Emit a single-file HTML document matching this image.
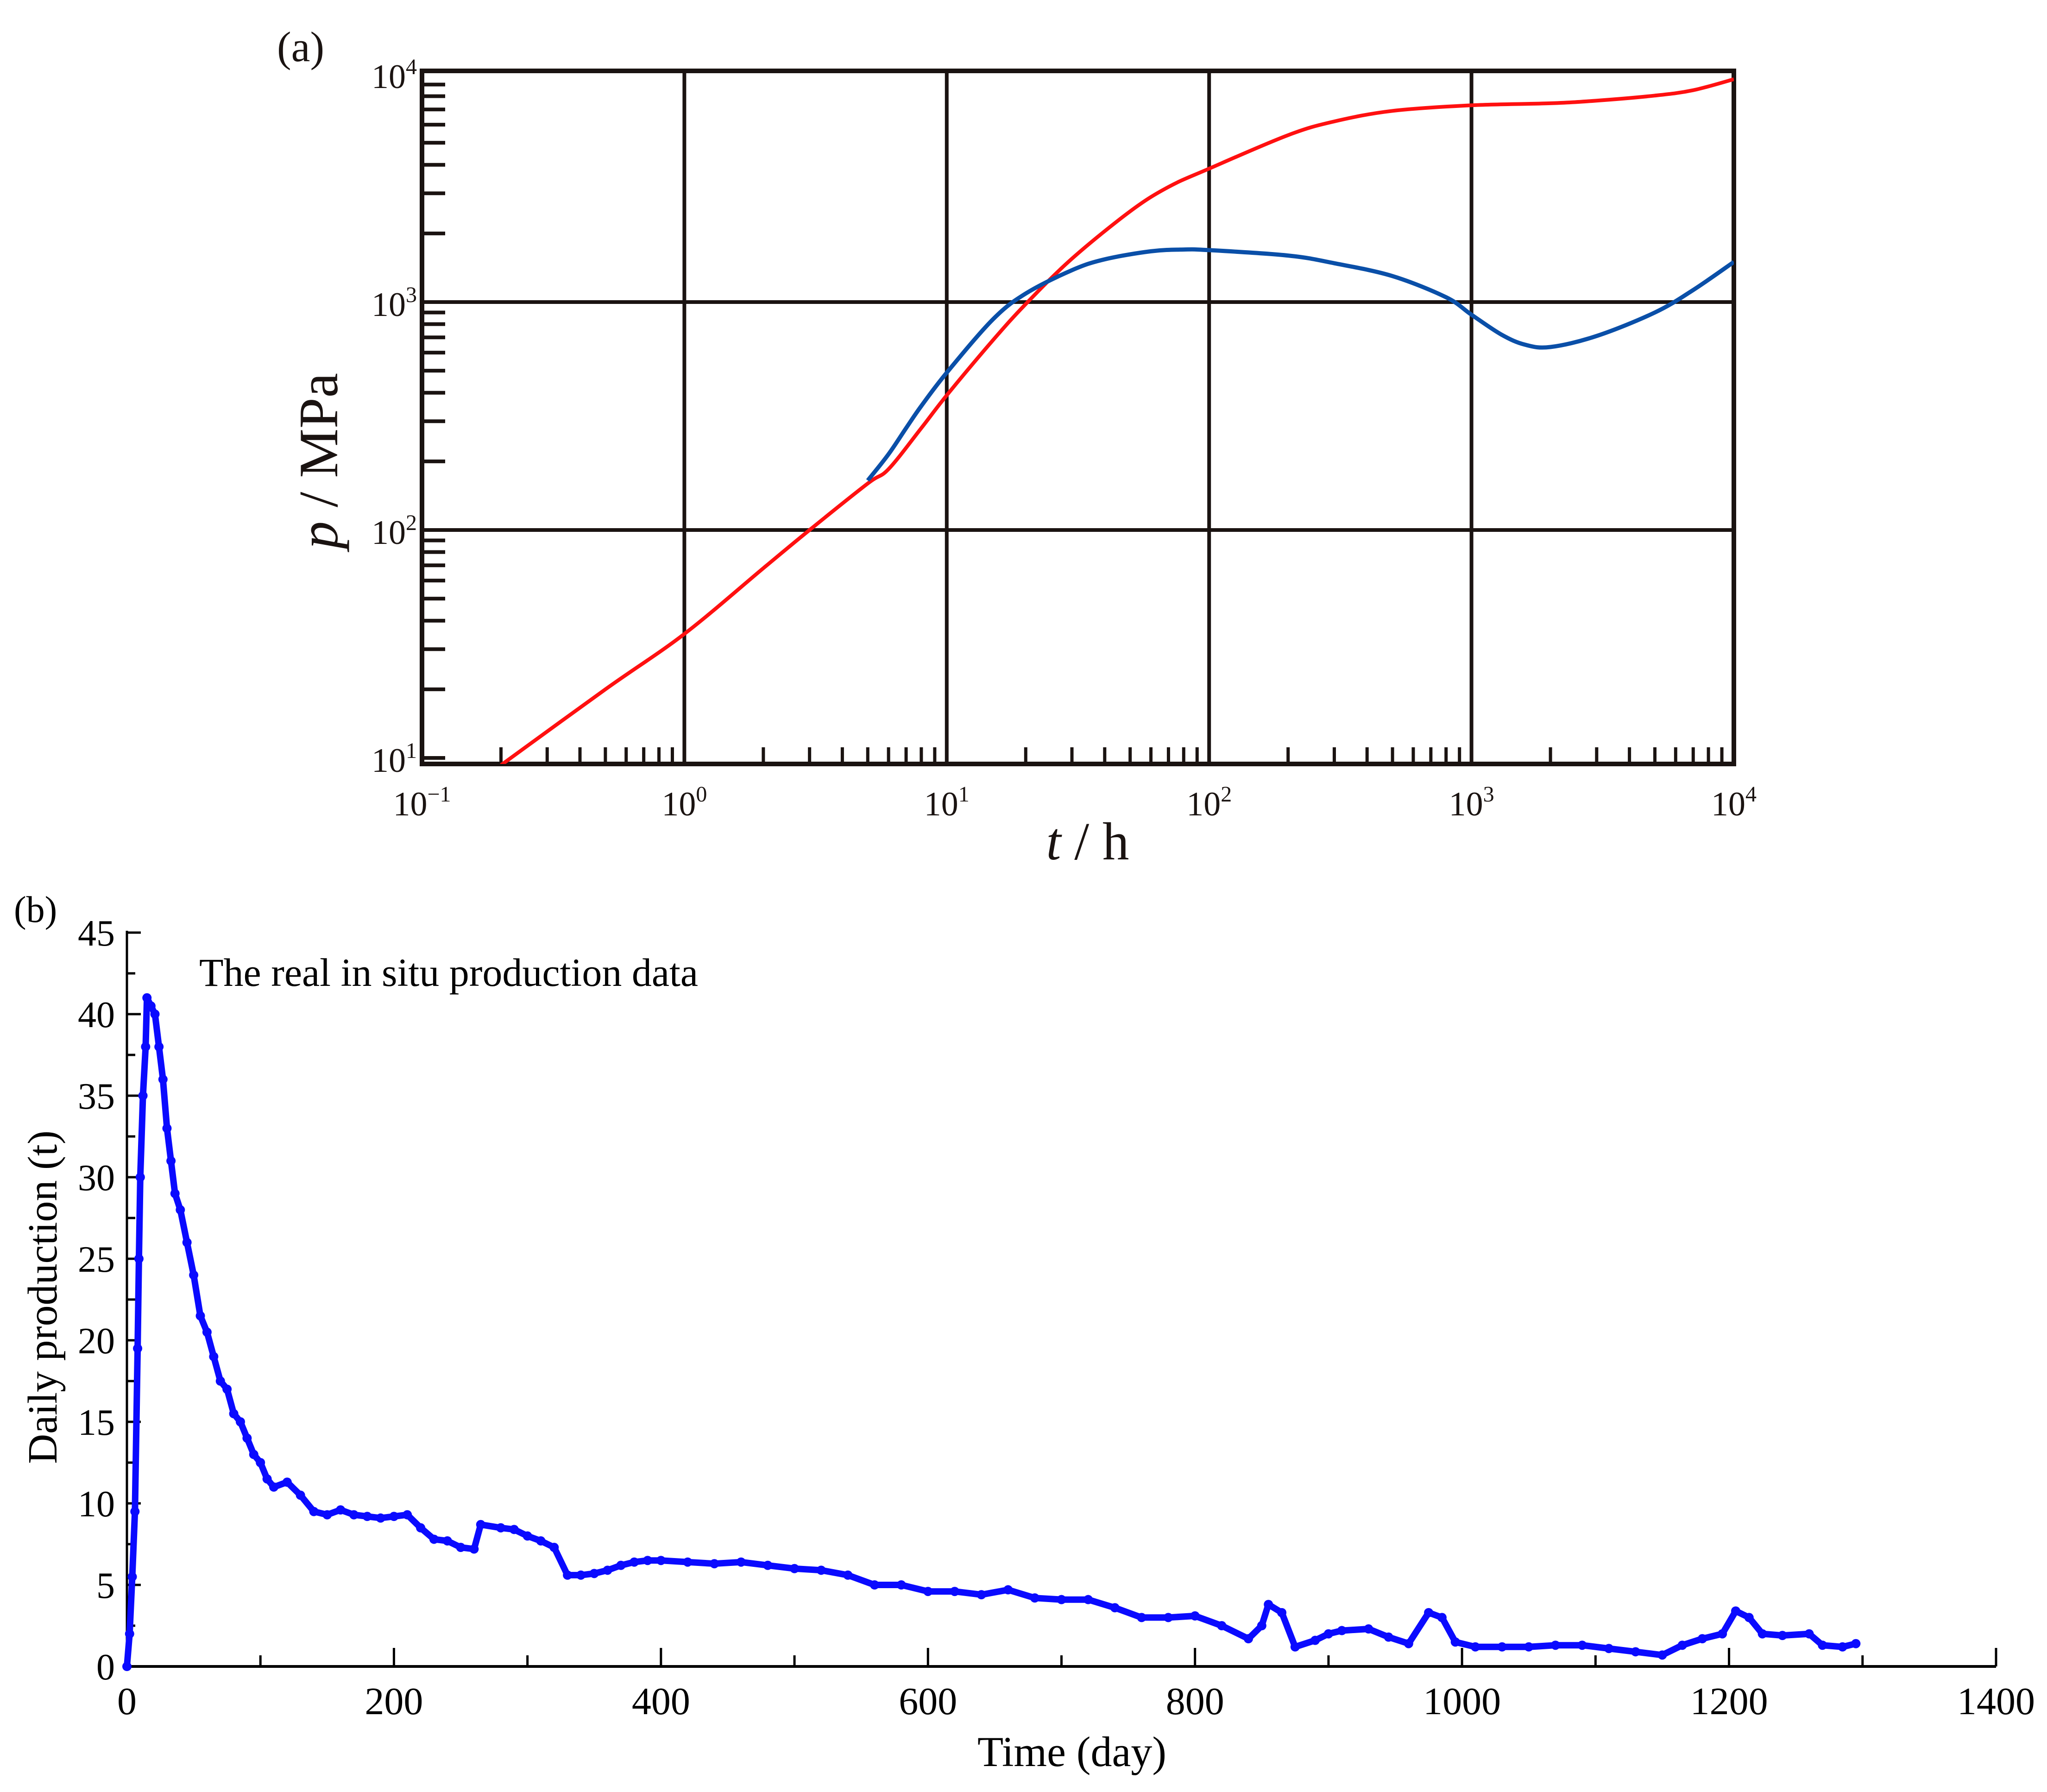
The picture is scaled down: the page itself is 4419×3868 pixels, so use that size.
<!DOCTYPE html>
<html><head><meta charset="utf-8"><style>html,body{margin:0;padding:0;background:#fff}svg{display:block}</style></head>
<body>
<svg id="fig" xmlns="http://www.w3.org/2000/svg" width="4419" height="3868" viewBox="0 0 4419 3868" font-family="'Liberation Serif', serif">
<rect x="0" y="0" width="4419" height="3868" fill="#fff"/>
<g id="chartA"></g>
<g id="chartB"></g>
</svg>
<script>
// ---- Chart (a) data ----
const aXTicks = [-1, 0, 1, 2, 3, 4];
const aYTicks = [1, 2, 3, 4];
const redT = [0.2, 0.5, 1, 2, 3, 5, 6, 8, 10, 15, 20, 30, 50, 70, 100, 200, 300, 500, 1000, 2000, 3000, 5000, 7000, 10000];
const redP = [9.3, 20, 35, 68, 100, 160, 185, 280, 390, 680, 980, 1550, 2500, 3200, 3850, 5400, 6200, 6900, 7300, 7450, 7650, 8050, 8500, 9500];
const blueT = [5, 6, 7, 8, 10, 15, 20, 30, 40, 60, 80, 100, 200, 300, 500, 800, 1000, 1300, 1600, 2000, 3000, 5000, 7000, 10000];
const blueP = [165, 215, 280, 350, 490, 840, 1090, 1380, 1540, 1670, 1700, 1690, 1600, 1480, 1300, 1050, 880, 720, 650, 635, 710, 900, 1130, 1500];
// ---- Chart (b) data ----
const bDays = [0,2,4,6,8,9,10,12,14,15,18,21,24,27,30,33,36,40,45,50,55,60,65,70,75,80,85,90,95,100,105,110,120,130,140,150,160,170,180,190,200,210,220,230,240,250,260,265,280,290,300,310,320,330,340,350,360,370,380,390,400,420,440,460,480,500,520,540,560,580,600,620,640,660,680,700,720,740,760,780,800,820,840,850,855,865,875,890,900,910,930,945,960,975,985,995,1010,1030,1050,1070,1090,1110,1130,1150,1165,1180,1195,1205,1215,1225,1240,1260,1270,1285,1295];
const bProd = [0,2,5.5,9.5,19.5,25,30,35,38,41,40.5,40,38,36,33,31,29,28,26,24,21.5,20.5,19,17.5,17,15.5,15,14,13,12.5,11.5,11,11.3,10.5,9.5,9.3,9.6,9.3,9.2,9.1,9.2,9.3,8.5,7.8,7.7,7.3,7.2,8.7,8.5,8.4,8.0,7.7,7.3,5.6,5.6,5.7,5.9,6.2,6.4,6.5,6.5,6.4,6.3,6.4,6.2,6.0,5.9,5.6,5.0,5.0,4.6,4.6,4.4,4.7,4.2,4.1,4.1,3.6,3.0,3.0,3.1,2.5,1.7,2.5,3.8,3.3,1.2,1.6,2.0,2.2,2.3,1.8,1.4,3.3,3.0,1.5,1.2,1.2,1.2,1.3,1.3,1.1,0.9,0.7,1.3,1.7,2.0,3.4,3.0,2.0,1.9,2.0,1.3,1.2,1.4];
const bXTicks = [0,200,400,600,800,1000,1200,1400];
const bYTicks = [0,5,10,15,20,25,30,35,40,45];

const NS = 'http://www.w3.org/2000/svg';
function mk(parent, tag, attrs, text) {
  const e = document.createElementNS(NS, tag);
  for (const k in attrs) e.setAttribute(k, attrs[k]);
  if (text !== undefined) e.textContent = text;
  parent.appendChild(e);
  return e;
}
function smoothPath(pts) {
  let d = 'M' + pts[0][0].toFixed(1) + ',' + pts[0][1].toFixed(1);
  for (let i = 0; i < pts.length - 1; i++) {
    const p0 = pts[Math.max(0, i - 1)], p1 = pts[i], p2 = pts[i + 1], p3 = pts[Math.min(pts.length - 1, i + 2)];
    const c1x = p1[0] + (p2[0] - p0[0]) / 6, c1y = p1[1] + (p2[1] - p0[1]) / 6;
    const c2x = p2[0] - (p3[0] - p1[0]) / 6, c2y = p2[1] - (p3[1] - p1[1]) / 6;
    d += ' C' + c1x.toFixed(1) + ',' + c1y.toFixed(1) + ' ' + c2x.toFixed(1) + ',' + c2y.toFixed(1) + ' ' + p2[0].toFixed(1) + ',' + p2[1].toFixed(1);
  }
  return d;
}

// ---------- Chart A ----------
const A = document.getElementById('chartA');
const aL = 911, aR = 3743, aT = 153, aB = 1649;
const ax = t => aL + (Math.log10(t) + 1) / 5 * (aR - aL);
const yDec = 492, y3 = 652;
const ay = p => y3 - (Math.log10(p) - 3) * yDec;

for (const d of [0, 1, 2, 3]) {
  const l = mk(A, 'line', {x1: ax(Math.pow(10, d)), x2: ax(Math.pow(10, d)), y1: aT, y2: aB, stroke: '#1a1311', 'stroke-width': 8});
  
  
}
for (const d of [2, 3]) {
  const l = mk(A, 'line', {x1: aL, x2: aR, y1: ay(Math.pow(10, d)), y2: ay(Math.pow(10, d)), stroke: '#1a1311', 'stroke-width': 8});
  
  
}
for (let d = -1; d < 4; d++) for (let m = 2; m <= 9; m++) {
  const x = ax(m * Math.pow(10, d));
  const l = mk(A, 'line', {x1: x, x2: x, y1: aB, y2: aB - 36, stroke: '#1a1311', 'stroke-width': 7});
  
  
}
for (let d = 0; d < 4; d++) for (let m = 1; m <= 9; m++) {
  const y = ay(m * Math.pow(10, d));
  if (y > aB || y < aT) continue;
  const l = mk(A, 'line', {x1: aL, x2: aL + 50, y1: y, y2: y, stroke: '#1a1311', 'stroke-width': 8});
  
  
}
const fr = mk(A, 'rect', {x: aL, y: aT, width: aR - aL, height: aB - aT, fill: 'none', stroke: '#1a1311', 'stroke-width': 10});



const clipDef = mk(A, 'clipPath', {id: 'clipA'});
mk(clipDef, 'rect', {x: aL, y: aT, width: aR - aL, height: aB - aT});
const red = mk(A, 'path', {d: smoothPath(redT.map((t, i) => [ax(t), ay(redP[i])])), fill: 'none', stroke: '#ff1010', 'stroke-width': 8, 'stroke-linejoin': 'round', 'clip-path': 'url(#clipA)'});


const blue = mk(A, 'path', {d: smoothPath(blueT.map((t, i) => [ax(t), ay(blueP[i])])), fill: 'none', stroke: '#0a4fa8', 'stroke-width': 9, 'stroke-linejoin': 'round', 'clip-path': 'url(#clipA)'});



for (const d of aXTicks) {
  const t = mk(A, 'text', {x: ax(Math.pow(10, d)), y: 1760, 'font-size': 74, 'text-anchor': 'middle', fill: '#1a1311'});
  
  
  t.appendChild(document.createTextNode('10'));
  mk(t, 'tspan', {dy: -30, 'font-size': 48}, d < 0 ? '\u2212' + (-d) : String(d));
}
for (const d of aYTicks) {
  const t = mk(A, 'text', {x: 900, y: ay(Math.pow(10, d)) + 30, 'font-size': 74, 'text-anchor': 'end', fill: '#1a1311'});
  
  
  t.appendChild(document.createTextNode('10'));
  mk(t, 'tspan', {dy: -30, 'font-size': 48}, String(d));
}
let lab = mk(A, 'text', {x: 598, y: 132, 'font-size': 92, fill: '#1a1311'}, '(a)');


let xt = mk(A, 'text', {x: 2348, y: 1855, 'font-size': 115, 'text-anchor': 'middle', fill: '#1a1311'});


mk(xt, 'tspan', {'font-style': 'italic'}, 't');
mk(xt, 'tspan', {}, ' / h');
let yt = mk(A, 'text', {x: 0, y: 0, 'font-size': 120, 'text-anchor': 'middle', fill: '#1a1311', transform: 'translate(728,995) rotate(-90)'});


mk(yt, 'tspan', {'font-style': 'italic'}, 'p');
mk(yt, 'tspan', {}, ' / MPa');

// ---------- Chart B ----------
const B = document.getElementById('chartB');
const bL = 274, bR = 4309, b0 = 3597, b45 = 2013;
const bx = d => bL + d / 1400 * (bR - bL);
const by = v => b0 - v / 45 * (b0 - b45);

let axl = mk(B, 'line', {x1: bL, x2: bL, y1: b45 - 4, y2: b0, stroke: '#000', 'stroke-width': 5});


let axb = mk(B, 'line', {x1: bL, x2: bR, y1: b0, y2: b0, stroke: '#000', 'stroke-width': 6});



for (let d = 0; d <= 1400; d += 100) {
  const l = mk(B, 'line', {x1: bx(d), x2: bx(d), y1: b0, y2: b0 - (d % 200 === 0 ? 40 : 24), stroke: '#000', 'stroke-width': 5});
  
  
}
for (let v = 0; v <= 45; v += 2.5) {
  const l = mk(B, 'line', {x1: bL, x2: bL + (v % 5 === 0 ? 30 : 18), y1: by(v), y2: by(v), stroke: '#000', 'stroke-width': 5});
  
  
}
for (const d of bXTicks) {
  const t = mk(B, 'text', {x: bx(d), y: 3700, 'font-size': 84, 'text-anchor': 'middle', fill: '#000'}, String(d));
  
  
}
for (const v of bYTicks) {
  const t = mk(B, 'text', {x: 248, y: by(v) + 28, 'font-size': 80, 'text-anchor': 'end', fill: '#000'}, String(v));
  
  
}
const line = mk(B, 'path', {d: bDays.map((d, i) => (i ? 'L' : 'M') + bx(d).toFixed(1) + ',' + by(bProd[i]).toFixed(1)).join(' '), fill: 'none', stroke: '#0a0aff', 'stroke-width': 14, 'stroke-linejoin': 'round'});


bDays.forEach((d, i) => {
  const c = mk(B, 'circle', {cx: bx(d), cy: by(bProd[i]), r: 10, fill: '#0a0aff'});
  
  
});
lab = mk(B, 'text', {x: 30, y: 1990, 'font-size': 80, fill: '#000'}, '(b)');


let ann = mk(B, 'text', {x: 430, y: 2128, 'font-size': 86, fill: '#000'}, 'The real in situ production data');


let bxt = mk(B, 'text', {x: 2314, y: 3812, 'font-size': 92, 'text-anchor': 'middle', fill: '#000'}, 'Time (day)');


let byt = mk(B, 'text', {x: 0, y: 0, 'font-size': 90, 'text-anchor': 'middle', fill: '#000', transform: 'translate(122,2800) rotate(-90)'}, 'Daily production (t)');


</script>
</body></html>
